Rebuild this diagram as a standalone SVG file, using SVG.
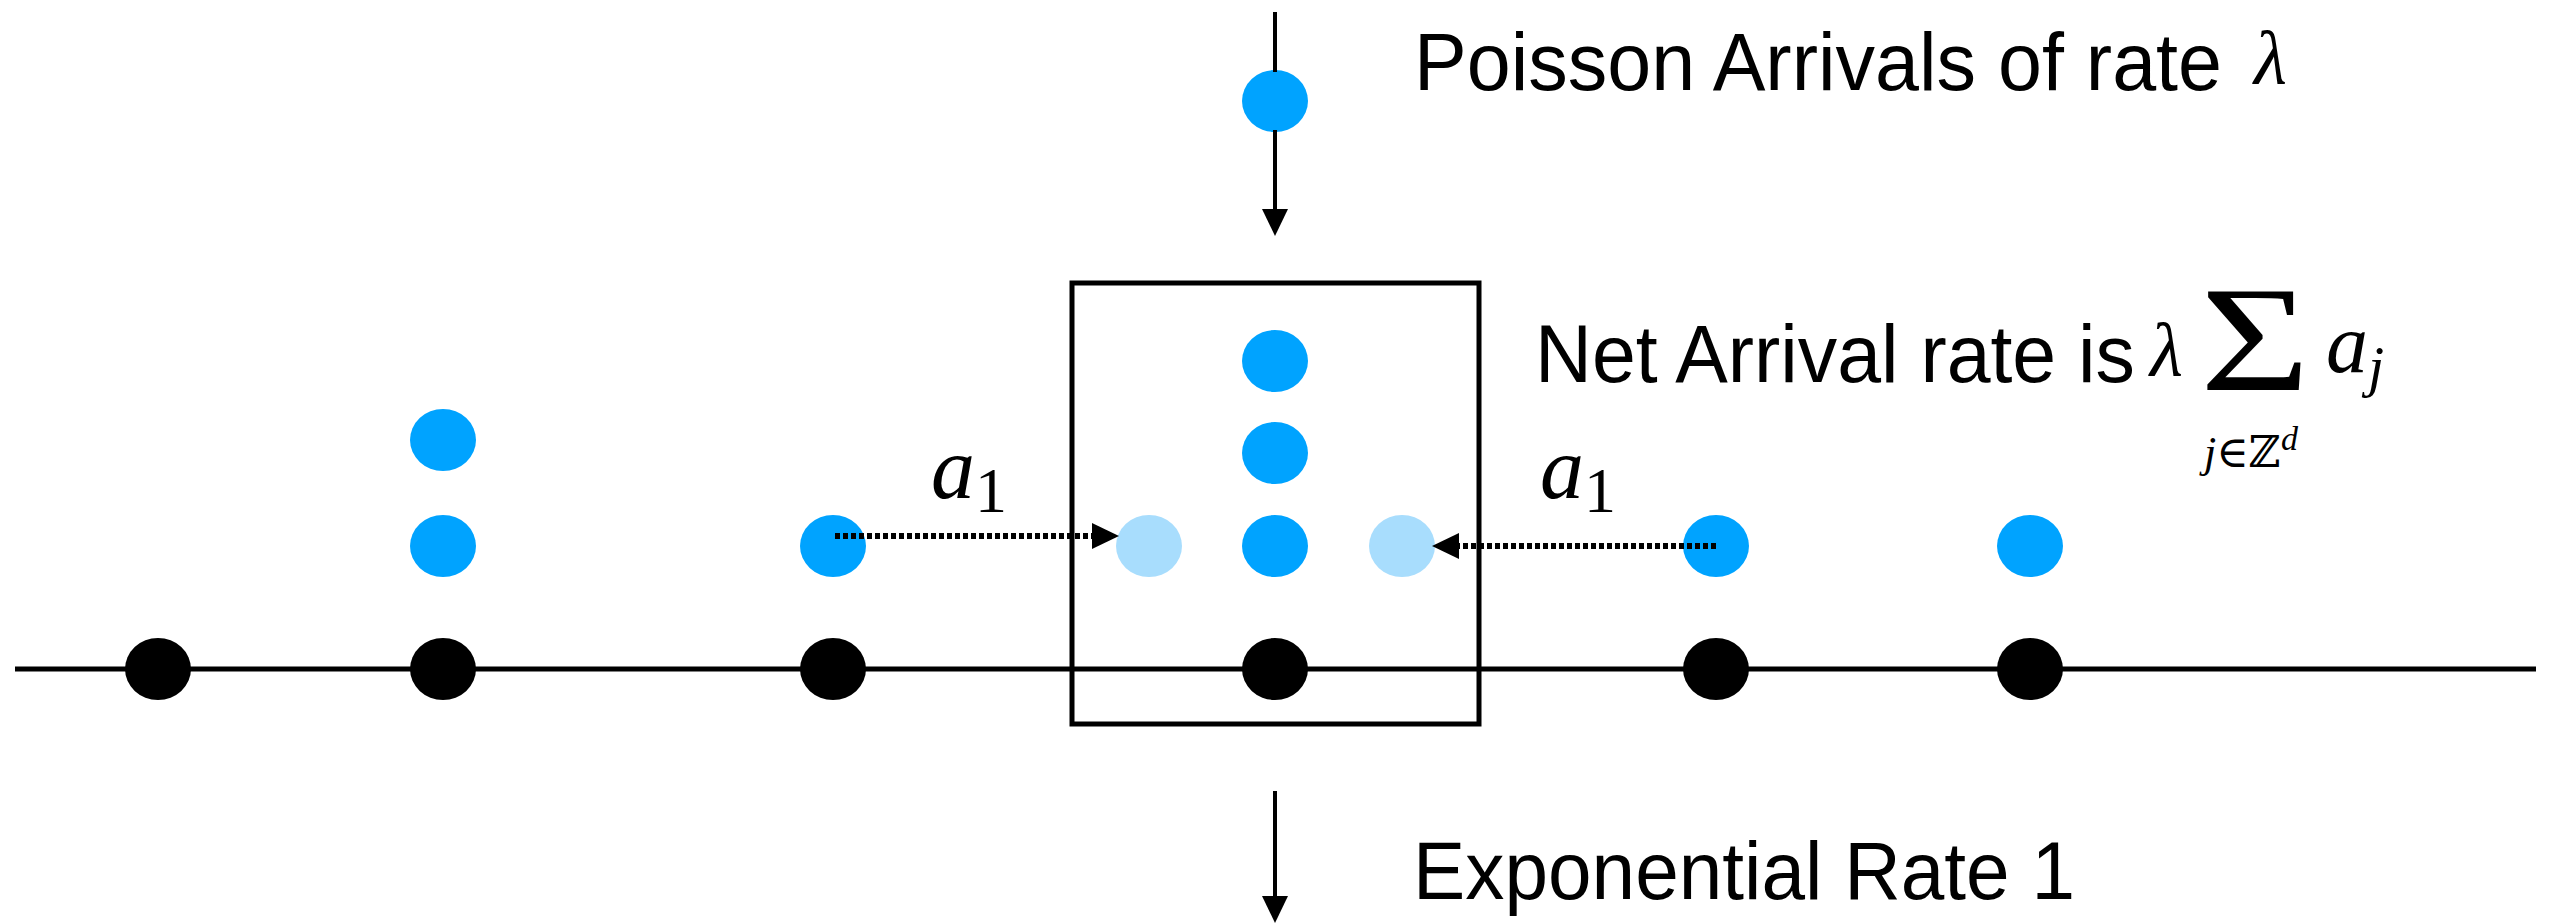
<svg xmlns="http://www.w3.org/2000/svg" width="2550" height="923" viewBox="0 0 2550 923">
  <style>
    .bg { fill: #ffffff; }
    .site { fill: #000000; }
    .part { fill: #00A3FF; }
    .ghost { fill: #A8DDFD; }
    .frame { fill: none; stroke: #000000; stroke-width: 5; }
    .axis { stroke: #000000; stroke-width: 5; fill: none; }
    .arrow { stroke: #000000; stroke-width: 4; fill: none; }
    .dotted { stroke: #000000; stroke-width: 6; stroke-dasharray: 5 3; fill: none; }
    .label { font-family: "Liberation Sans", Arial, Helvetica, sans-serif; font-size: 81px; fill: #000000; }
    .math { font-family: "Liberation Serif", "DejaVu Serif", serif; font-style: italic; fill: #000000; }
    .mathup { font-family: "Liberation Serif", "DejaVu Serif", serif; font-style: normal; fill: #000000; }
  </style>
  <defs>
    <marker id="head" markerUnits="userSpaceOnUse" markerWidth="27" markerHeight="26" refX="0" refY="13" orient="auto">
      <path d="M0,0 L27,13 L0,26 Z" fill="#000000"/>
    </marker>
  </defs>

  <rect class="bg" x="0" y="0" width="2550" height="923"/>

  <g id="window-box">
    <rect class="frame" x="1072" y="283" width="407" height="441"/>
  </g>

  <g id="site-0"><ellipse class="site" cx="158" cy="669" rx="33" ry="31"/></g>
  <g id="site-1">
    <ellipse class="site" cx="443" cy="669" rx="33" ry="31"/>
    <ellipse class="part" cx="443" cy="546" rx="33" ry="31"/>
    <ellipse class="part" cx="443" cy="440" rx="33" ry="31"/>
  </g>
  <g id="site-2">
    <ellipse class="site" cx="833" cy="669" rx="33" ry="31"/>
    <ellipse class="part" cx="833" cy="546" rx="33" ry="31"/>
  </g>
  <g id="site-3">
    <ellipse class="site" cx="1275" cy="669" rx="33" ry="31"/>
    <ellipse class="part" cx="1275" cy="546" rx="33" ry="31"/>
    <ellipse class="part" cx="1275" cy="453" rx="33" ry="31"/>
    <ellipse class="part" cx="1275" cy="361" rx="33" ry="31"/>
  </g>
  <g id="ghost-left"><ellipse class="ghost" cx="1149" cy="546" rx="33" ry="31"/></g>
  <g id="ghost-right"><ellipse class="ghost" cx="1402" cy="546" rx="33" ry="31"/></g>
  <g id="site-4">
    <ellipse class="site" cx="1716" cy="669" rx="33" ry="31"/>
    <ellipse class="part" cx="1716" cy="546" rx="33" ry="31"/>
  </g>
  <g id="site-5">
    <ellipse class="site" cx="2030" cy="669" rx="33" ry="31"/>
    <ellipse class="part" cx="2030" cy="546" rx="33" ry="31"/>
  </g>
  <g id="arrival"><ellipse class="part" cx="1275" cy="101" rx="33" ry="31"/></g>

  <g id="connectors">
    <line class="axis" x1="15" y1="669" x2="2536" y2="669"/>
    <line class="arrow" x1="1275" y1="12" x2="1275" y2="72"/>
    <line class="arrow" x1="1275" y1="130" x2="1275" y2="209" marker-end="url(#head)"/>
    <line class="arrow" x1="1275" y1="791" x2="1275" y2="896" marker-end="url(#head)"/>
    <line class="dotted" x1="835" y1="536" x2="1092" y2="536" marker-end="url(#head)"/>
    <line class="dotted" x1="1716" y1="546" x2="1459" y2="546" marker-end="url(#head)"/>
  </g>

  <g id="labels">
    <text class="label" x="1414" y="90" textLength="808" lengthAdjust="spacingAndGlyphs">Poisson Arrivals of rate</text>
    <text class="math" x="2254" y="84" font-size="76">λ</text>

    <text class="label" x="1535" y="382" textLength="600" lengthAdjust="spacingAndGlyphs">Net Arrival rate is</text>
    <text class="math" x="2150" y="376" font-size="76">λ</text>
    <text class="mathup" x="2200" y="390" font-size="150" textLength="110" lengthAdjust="spacingAndGlyphs">Σ</text>
    <text class="math" x="2204" y="467" font-size="44">j<tspan class="mathup">∈ℤ</tspan><tspan font-size="34" dy="-17">d</tspan></text>
    <text class="math" x="2326" y="372" font-size="84">a<tspan font-size="58" dy="14">j</tspan></text>

    <text class="math" x="931" y="498" font-size="88">a<tspan class="mathup" font-size="64" dy="14">1</tspan></text>
    <text class="math" x="1540" y="498" font-size="88">a<tspan class="mathup" font-size="64" dy="14">1</tspan></text>

    <text class="label" x="1413" y="899" textLength="662" lengthAdjust="spacingAndGlyphs">Exponential Rate 1</text>
  </g>
</svg>
